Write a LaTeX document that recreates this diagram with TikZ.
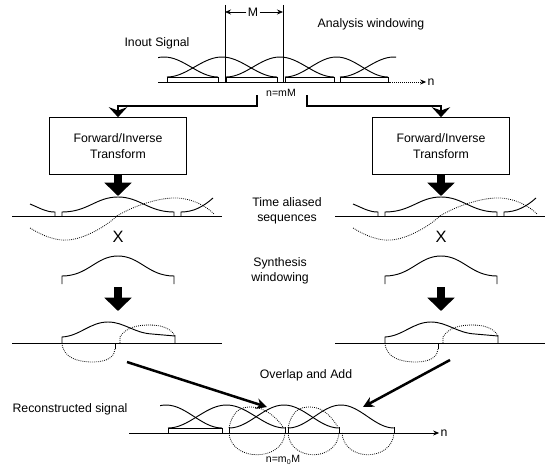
\documentclass[tikz,border=0pt]{standalone}
\usepackage{fontspec}
\setmainfont{Liberation Sans}
\usetikzlibrary{arrows.meta,positioning}

\begin{document}
\begin{tikzpicture}[
  x=0.3mm, y=-0.3mm,
  every node/.style={font=\fontsize{10.5}{13}\selectfont, inner sep=1pt},
  note/.style={align=center},
  smalltext/.style={font=\fontsize{9}{10}\selectfont},
  tbox/.style={rectangle, draw, line width=0.8pt, align=center, minimum width=41mm, minimum height=17mm},
  wave/.style={line width=0.8pt},
  alias/.style={line width=0.7pt, densely dotted},
  axisline/.style={line width=0.8pt},
  fat/.style={line width=0.75mm, -{Stealth[length=3mm, width=5.5mm, inset=1mm]}},
  bigdown/.style={line width=2.4mm, -{Triangle[length=4mm, width=8mm]}},
  thinarrow/.style={line width=0.7pt, -{Stealth[length=1.8mm, width=1.5mm]}},
  ola/.style={line width=0.75mm, -{Stealth[length=3.2mm, width=3.2mm]}}
]
\useasboundingbox (0,0) rectangle (545,467);

% analysis windowing
\coordinate (mleft) at (225,5);
\coordinate (mright) at (283,5);
\node (mlab) at (253,12) {M};
\draw[thinarrow] (mlab.west) -- (mlab.west -| mleft);
\draw[thinarrow] (mlab.east) -- (mlab.east -| mright);
\draw[axisline] (mleft) -- (225,82);
\draw[axisline] (mright) -- (283,82);
\node[note] (anawin) at (371,24) {Analysis windowing};
\node[note] (insig) at (157,43) {Inout Signal};
\node (ntop) at (431,82) {n};
\draw[axisline] (158,82) -- (390,82);
\draw[alias, -{Stealth[length=1.8mm, width=1.5mm]}] (390,82) -- (ntop.west);
\foreach \a/\b in {167/218, 226/277, 285/334, 340/388}
  \draw[wave] (\a,82) -- (\a,77) -- (\b,77) -- (\b,82);
\begin{scope}
  \clip (158,40) rectangle (396,90);
  \foreach \a/\w in {110/108, 167/110, 226/108, 285/103, 340/108}
    \draw[wave] plot[domain=0:\w, samples=40] ({\a+\x}, {77-10*(1-cos(\x/\w*360))});
\end{scope}
\node[smalltext] (split) at (281,93) {n=mM};

% transforms
\node[tbox] (boxL) at (118,146) {Forward/Inverse\\Transform};
\node[tbox] (boxR) at (441,146) {Forward/Inverse\\Transform};
\coordinate (tapL) at (257,95);
\coordinate (tapR) at (307,95);
\coordinate (bendL) at (118,106);
\coordinate (bendR) at (441,106);
\draw[fat] (tapL) |- (bendL) -- (boxL.north);
\draw[fat] (tapR) |- (bendR) -- (boxR.north);

% both branches
\foreach \cx/\s in {118/L, 441/R} {
  \begin{scope}[shift={(\cx,0)}]
    \coordinate (a1\s) at (0,196);
    \draw[bigdown] (box\s.south) -- (a1\s);
    % time aliased sequence
    \draw[axisline] (-106,216) -- (104,216);
    \draw[wave] (-88,204) .. controls (-76,209) and (-72,212) .. (-63,212) -- (-63,216);
    \draw[wave] (-56,216) -- (-56,212) .. controls (-30,212) and (-22,197) .. (0,197)
      .. controls (22,197) and (30,212) .. (56,212) -- (56,216);
    \draw[wave] (63,216) -- (63,212) .. controls (75,212) and (85,207) .. (95,198);
    \draw[alias] (-1,216) .. controls (15,206) and (42,197) .. (60,198)
      .. controls (75,199) and (88,206) .. (96,214);
    \draw[alias] (-88,228) .. controls (-75,236) and (-62,241) .. (-50,240)
      .. controls (-35,239) and (-14,228) .. (-1,216);
    \node[font=\fontsize{14}{14}\selectfont] (times\s) at (0,237) {X};
    % synthesis window
    \draw[wave] (-56,284) -- (-56,276) .. controls (-30,276) and (-22,256) .. (0,256)
      .. controls (22,256) and (30,276) .. (56,276) -- (56,284);
    \coordinate (a2top\s) at (0,287);
    \coordinate (a2\s) at (0,311);
    \draw[bigdown] (a2top\s) -- (a2\s);
    % windowed output
    \draw[axisline] (-106,343) -- (104,343);
    \draw[wave] (-56,343) -- (-56,337) .. controls (-38,336) and (-28,322) .. (-10,322)
      .. controls (6,322) and (16,333) .. (34,334) -- (57,336) -- (57,343);
    \draw[alias] (2,343) -- (2,337) .. controls (8,327) and (20,325) .. (32,325)
      .. controls (46,325) and (54,330) .. (57,336);
    \draw[alias] (-56,343) .. controls (-55,358) and (-40,362) .. (-25,362)
      .. controls (-10,362) and (-3,356) .. (-3,349);
    \draw[wave] (-3,343) -- (-3,349);
  \end{scope}
}
\node[note] (tal) at (287,211) {Time aliased\\sequences};
\node[note] (synw) at (280,271) {Synthesis\\windowing};

% overlap and add
\node[note] (ovl) at (306,375) {Overlap and Add};
\node[note] (recsig) at (70,409) {Reconstructed signal};
\coordinate (srcL) at (127,362);
\coordinate (dstL) at (267,407);
\coordinate (srcR) at (450,360);
\coordinate (dstR) at (363,407);
\draw[ola] (srcL) -- (dstL);
\draw[ola] (srcR) -- (dstR);
\node (nbot) at (444,433) {n};
\draw[thinarrow] (129,433) -- (nbot.west);
\draw[wave] (168,433) -- (168,428) -- (222,428) -- (222,433);
\begin{scope}
  \clip (160,380) rectangle (400,433);
  \foreach \a/\w in {110/112, 168/117, 229/110, 288/106}
    \draw[wave] plot[domain=0:\w, samples=40] ({\a+\x}, {428-11.5*(1-cos(\x/\w*360))});
\end{scope}
\foreach \t in {229,285,288,339,394}
  \draw[wave] (\t,427) -- (\t,433);
\foreach \a/\b in {229/283, 288/338}
  \draw[alias] (\a,428) .. controls (\a+4,410) and (\a+12,407) .. (\a+22,407)
    .. controls (\a+36,407) and (\b-6,418) .. (\b,427);
\foreach \a/\b in {229/285, 288/339, 342/394}
  \draw[alias] (\a,433) .. controls (\a+2,462) and (\b-2,462) .. (\b,433);
\node[smalltext] (rsplit) at (283,460) {n=m\textsubscript{0}M};

\end{tikzpicture}
\end{document}
